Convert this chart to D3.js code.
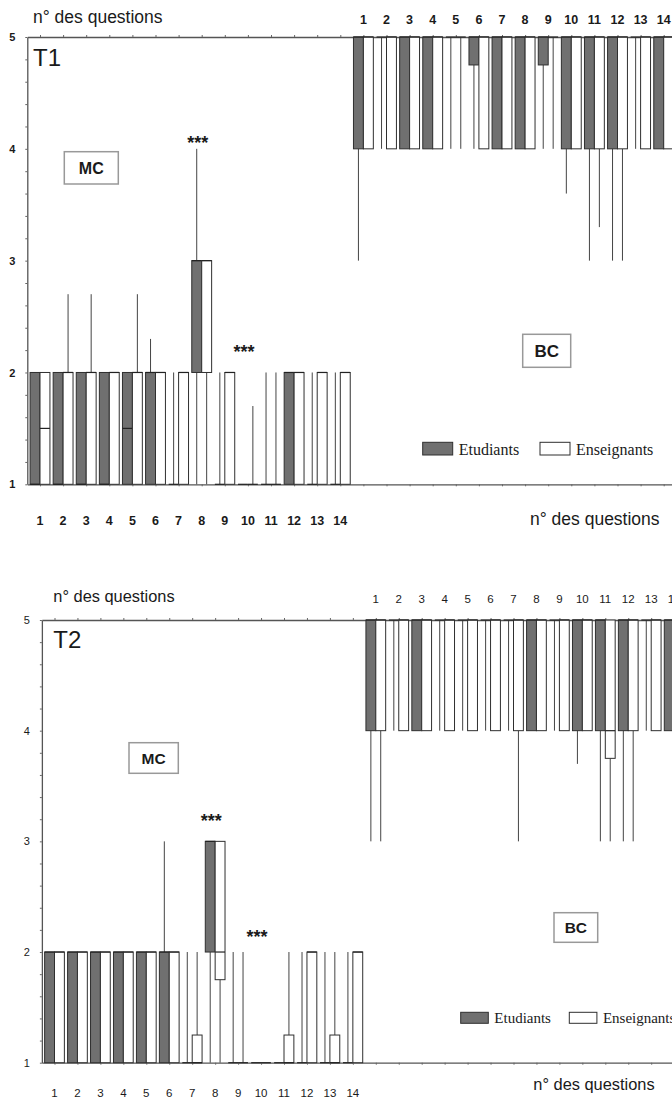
<!DOCTYPE html>
<html><head>
<meta charset="utf-8">
<script src="https://d3js.org/d3.v7.min.js"></script>
<style>
  body { margin: 0; background: #fff; }
  svg text { font-family: Arial, "Liberation Sans", sans-serif; fill: #1a1a1a; }
  text.leg { font-family: "Liberation Serif", "Times New Roman", serif; }
  .axis .domain { stroke: #555; stroke-width: 1.3; }
  .axis line { stroke: #666; }
</style>
</head>
<body>
<svg id="chart" width="672" height="1100"></svg>
<script>
// question numbers (MC block, then BC block on the same axis)
const mcQuestions = d3.range(1, 15);
const bcQuestions = d3.range(1, 15);

// box values per question: [min, q1, median, q3, max]
const t1McStudents = [[1,1,1,2,2],[1,1,1,2,2],[1,1,1,2,2],[1,1,1,2,2],[1,1,1.5,2,2],[1,1,2,2,2.3],[1,1,1,1,2],
                      [1,2,3,3,4],[1,1,1,1,2],[1,1,1,1,1],[1,1,1,1,2],[1,1,2,2,2],[1,1,1,1,2],[1,1,1,1,2]];
const t1McTeachers = [[1,1,1.5,2,2],[1,1,2,2,2.7],[1,1,2,2,2.7],[1,1,2,2,2],[1,1,2,2,2.7],[1,1,2,2,2],[1,1,2,2,2],
                      [1,2,3,3,3],[1,1,2,2,2],[1,1,1,1,1.7],[1,1,1,1,2],[1,1,2,2,2],[1,1,2,2,2],[1,1,2,2,2]];
const t1BcStudents = [[3,4,5,5,5],[4,5,5,5,5],[4,4,5,5,5],[4,4,5,5,5],[4,5,5,5,5],[4,4.75,5,5,5],[4,4,5,5,5],
                      [4,4,5,5,5],[4,4.75,5,5,5],[3.6,4,5,5,5],[3,4,5,5,5],[3,4,5,5,5],[4,5,5,5,5],[4,4,5,5,5]];
const t1BcTeachers = [[4,4,5,5,5],[4,4,5,5,5],[4,4,5,5,5],[4,4,5,5,5],[4,5,5,5,5],[4,4,5,5,5],[4,4,5,5,5],
                      [4,4,5,5,5],[4,5,5,5,5],[4,4,5,5,5],[3.3,4,5,5,5],[3,4,5,5,5],[4,4,5,5,5],[4,4,5,5,5]];

const t2McStudents = [[1,1,2,2,2],[1,1,2,2,2],[1,1,2,2,2],[1,1,2,2,2],[1,1,2,2,2],[1,1,2,2,3],[1,1,1,1,2],
                      [1,2,3,3,3],[1,1,1,1,2],[1,1,1,1,1],[1,1,1,1,1],[1,1,1,1,2],[1,1,1,1,2],[1,1,1,1,2]];
const t2McTeachers = [[1,1,2,2,2],[1,1,2,2,2],[1,1,2,2,2],[1,1,2,2,2],[1,1,2,2,2],[1,1,2,2,2],[1,1,1,1.25,2],
                      [1,1.75,2,3,3],[1,1,1,1,2],[1,1,1,1,1],[1,1,1,1.25,2],[1,1,2,2,2],[1,1,1,1.25,2],[1,1,2,2,2]];
const t2BcStudents = [[3,4,5,5,5],[4,5,5,5,5],[4,4,5,5,5],[4,5,5,5,5],[4,5,5,5,5],[4,5,5,5,5],[4,5,5,5,5],
                      [4,4,5,5,5],[4,5,5,5,5],[3.7,4,5,5,5],[3,4,5,5,5],[3,4,5,5,5],[4,5,5,5,5],[4,4,5,5,5]];
const t2BcTeachers = [[3,4,5,5,5],[4,4,5,5,5],[4,4,5,5,5],[4,4,5,5,5],[4,4,5,5,5],[4,4,5,5,5],[3,4,5,5,5],
                      [4,4,5,5,5],[4,4,5,5,5],[4,4,5,5,5],[3,3.75,4,5,5],[3,4,5,5,5],[4,4,5,5,5],[4,4,5,5,5]];

// significance marks: MC question and level on the value axis
const t1Sig = [{q: 8, v: 4.09}, {q: 10, v: 2.22}];
const t2Sig = [{q: 8, v: 3.22}, {q: 10, v: 2.17}];

const yTicks = d3.range(0, 21).map(i => 1 + i * 0.2);

const svg = d3.select("#chart");

function drawPanel(p) {
  const g = svg.append("g");
  const n = mcQuestions.length + bcQuestions.length;

  const x = d3.scaleLinear()
      .domain([-0.55, n + 0.5])
      .range([p.center0 - 0.55 * p.step, p.center0 + (n + 0.5) * p.step]);
  const y = d3.scaleLinear().domain([1, 5]).range([p.bottom, p.top]);
  const bw = p.step * 0.43;

  // axes
  g.append("g").attr("class", "axis")
    .attr("transform", `translate(0,${p.top})`)
    .call(d3.axisTop(x).tickValues(d3.range(n)).tickSizeInner(2).tickSizeOuter(0).tickFormat(""));
  g.append("g").attr("class", "axis")
    .attr("transform", `translate(0,${p.bottom})`)
    .call(d3.axisBottom(x).tickValues(d3.range(n)).tickSizeInner(2).tickSizeOuter(0).tickFormat(""));
  let left = g.append("g").attr("class", "axis")
    .attr("transform", `translate(${x(-0.55)},0)`)
    .call(d3.axisLeft(y).tickValues(yTicks).tickSizeInner(2).tickSizeOuter(0).tickPadding(10)
      .tickFormat(d => Math.abs(d - Math.round(d)) < 1e-6 ? d3.format("d")(Math.round(d)) : ""));
  left.selectAll("text").style("font-size", "11px").style("font-weight", p.bold ? "bold" : "normal")
    .style("font-family", "Arial, sans-serif").attr("fill", "#222");

  const groups = [
    {data: p.mcS.concat(p.bcS), side: -1, fill: "#707070"},
    {data: p.mcT.concat(p.bcT), side: 1, fill: "#ffffff"}
  ];

  groups.forEach(grp => {
    const cx = i => x(i) + grp.side * bw / 2;
    const bx = i => grp.side < 0 ? x(i) - bw : x(i);
    const gg = g.append("g");

    gg.selectAll("line.wlo").data(grp.data).join("line")
      .attr("class", "wlo")
      .attr("x1", (d, i) => cx(i)).attr("x2", (d, i) => cx(i))
      .attr("y1", d => y(d[0])).attr("y2", d => y(d[1]))
      .attr("stroke", "#444").attr("stroke-width", 1);
    gg.selectAll("line.whi").data(grp.data).join("line")
      .attr("class", "whi")
      .attr("x1", (d, i) => cx(i)).attr("x2", (d, i) => cx(i))
      .attr("y1", d => y(d[3])).attr("y2", d => y(d[4]))
      .attr("stroke", "#444").attr("stroke-width", 1);

    gg.selectAll("rect").data(grp.data).join("rect")
      .attr("x", (d, i) => bx(i))
      .attr("y", d => y(d[3]))
      .attr("width", bw)
      .attr("height", d => y(d[1]) - y(d[3]))
      .attr("fill", grp.fill)
      .attr("stroke", "#2f2f2f").attr("stroke-width", 1);

    gg.selectAll("line.med").data(grp.data).join("line")
      .attr("class", "med")
      .attr("x1", (d, i) => bx(i)).attr("x2", (d, i) => bx(i) + bw)
      .attr("y1", d => y(d[2])).attr("y2", d => y(d[2]))
      .attr("stroke", "#222").attr("stroke-width", 1.2);
  });

  // question numbers
  g.selectAll("text.mcq").data(mcQuestions).join("text")
    .attr("class", "mcq")
    .attr("x", (d, i) => x(i)).attr("y", p.mcLabelY)
    .attr("text-anchor", "middle")
    .style("font-size", p.qFont + "px").style("font-weight", p.bold ? "bold" : "normal")
    .text(d => d);
  g.selectAll("text.bcq").data(bcQuestions).join("text")
    .attr("class", "bcq")
    .attr("x", (d, i) => x(i + mcQuestions.length)).attr("y", p.bcLabelY)
    .attr("text-anchor", "middle")
    .style("font-size", p.qFont + "px").style("font-weight", p.bold ? "bold" : "normal")
    .text(d => d);

  // significance stars
  g.selectAll("text.sig").data(p.sig).join("text")
    .attr("class", "sig")
    .attr("x", d => x(d.q - 1) - 4)
    .attr("y", d => y(d.v) + 10)
    .attr("text-anchor", "middle")
    .style("font-size", "18px").style("font-weight", "bold").attr("fill", "#333")
    .text("***");

  // titles
  g.append("text").attr("x", p.titleX).attr("y", p.titleY)
    .style("font-size", p.titleFont + "px").text("n° des questions");
  g.append("text").attr("x", p.xTitleX).attr("y", p.xTitleY)
    .style("font-size", p.titleFont + "px").text("n° des questions");
  g.append("text").attr("x", p.titleX).attr("y", p.panelY)
    .style("font-size", "24px").text(p.name);

  // MC / BC boxes
  [p.mcBox, p.bcBox].forEach(b => {
    g.append("rect").attr("x", b.x).attr("y", b.y).attr("width", b.w).attr("height", b.h)
      .attr("fill", "#fff").attr("stroke", "#999").attr("stroke-width", 1.5);
    g.append("text").attr("x", b.x + b.w / 2).attr("y", b.y + b.h / 2 + b.f * 0.36)
      .attr("text-anchor", "middle").style("font-size", b.f + "px").style("font-weight", "bold")
      .text(b.label);
  });

  // legend
  const L = p.legend;
  [{name: "Etudiants", fill: "#707070", x: L.x1}, {name: "Enseignants", fill: "#fff", x: L.x2}].forEach(it => {
    g.append("rect").attr("x", it.x).attr("y", L.y).attr("width", L.w).attr("height", L.h)
      .attr("fill", it.fill).attr("stroke", "#2f2f2f").attr("stroke-width", 1);
    g.append("text").attr("class", "leg").attr("x", it.x + L.w + 6).attr("y", L.y + L.h)
      .style("font-size", L.f + "px").text(it.name);
  });
}

drawPanel({
  name: "T1", top: 37, bottom: 484.3, center0: 40, step: 23.1, bold: true,
  mcS: t1McStudents, mcT: t1McTeachers, bcS: t1BcStudents, bcT: t1BcTeachers, sig: t1Sig,
  mcLabelY: 525, bcLabelY: 24, qFont: 12.5,
  titleX: 33, titleY: 23, panelY: 66, titleFont: 17.5, xTitleX: 530, xTitleY: 525,
  mcBox: {x: 64.3, y: 151.7, w: 54, h: 32.3, label: "MC", f: 16},
  bcBox: {x: 522.7, y: 334.3, w: 48, h: 33, label: "BC", f: 17},
  legend: {x1: 422.7, x2: 540, y: 442.3, w: 30, h: 12.7, f: 16}
});

drawPanel({
  name: "T2", top: 620, bottom: 1062.7, center0: 54.5, step: 22.95, bold: false,
  mcS: t2McStudents, mcT: t2McTeachers, bcS: t2BcStudents, bcT: t2BcTeachers, sig: t2Sig,
  mcLabelY: 1096.5, bcLabelY: 603, qFont: 11.5,
  titleX: 53.3, titleY: 601.7, panelY: 648.3, titleFont: 16.4, xTitleX: 533.3, xTitleY: 1090,
  mcBox: {x: 129, y: 742.7, w: 49.3, h: 30.6, label: "MC", f: 15.5},
  bcBox: {x: 554, y: 912.7, w: 43.7, h: 29.6, label: "BC", f: 15.5},
  legend: {x1: 460.7, x2: 569.3, y: 1012.3, w: 27.6, h: 11, f: 15}
});
</script>
</body>
</html>
